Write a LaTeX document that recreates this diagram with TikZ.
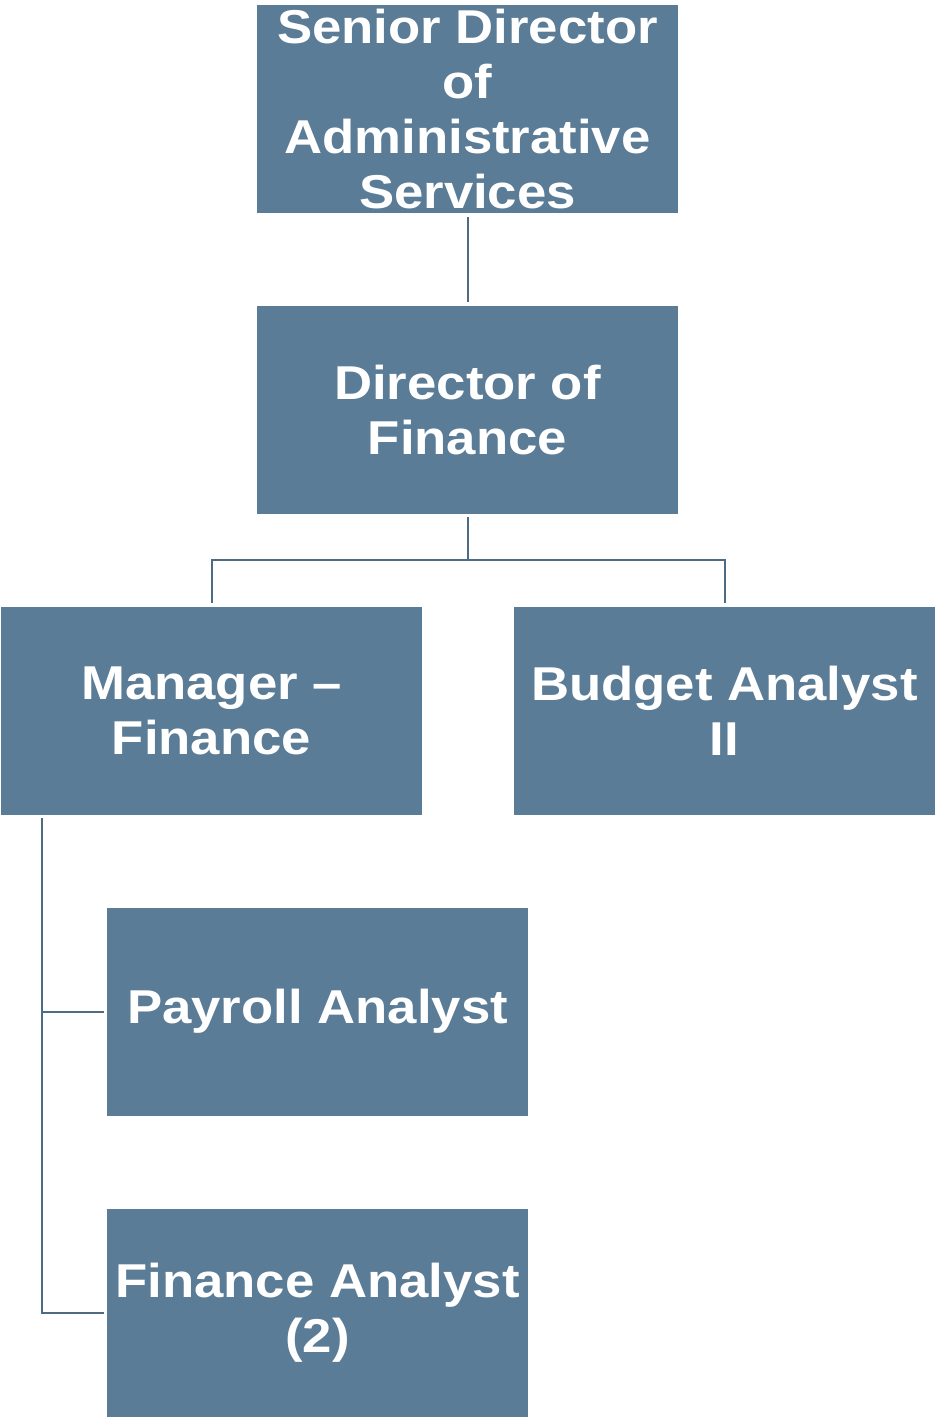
\documentclass[tikz,border=0pt]{standalone}
\usepackage{fontspec}
\setmainfont{Liberation Sans}
\newfontfamily\widefont[FakeStretch=1.11]{Liberation Sans}
\definecolor{boxfill}{HTML}{5B7C96}
\definecolor{linecol}{HTML}{4E6B84}
\begin{document}
\begin{tikzpicture}[x=1pt,y=-1pt,
  orgbox/.style={fill=boxfill, draw=none, minimum width=421pt, minimum height=208pt,
    inner sep=0pt, align=center, text=white,
    font=\widefont\fontsize{47.5}{55}\selectfont\bfseries},
  conn/.style={draw=linecol, line width=2pt}]
\useasboundingbox (0,0) rectangle (935,1419);
\node[orgbox] (sen) at (467.5,109) {Senior Director\\of\\Administrative\\Services};
\node[orgbox] (dir) at (467.5,410) {Director of\\Finance};
\node[orgbox] (mgr) at (211.5,710.5) {Manager –\\Finance};
\node[orgbox] (bud) at (724.5,710.5) {Budget Analyst\\II};
\node[orgbox] (pay) at (317.5,1011.5) {Payroll Analyst};
\node[orgbox] (fin) at (317.5,1312.5) {Finance Analyst\\(2)};
\draw[conn] ([yshift=-4pt]sen.south) -- ([yshift=4pt]dir.north);
\draw[conn] ([yshift=-3pt]dir.south) -- ++(0,43) coordinate (split);
\draw[conn] ([yshift=3pt]mgr.north) |- (split) -| ([yshift=3pt]bud.north);
\draw[conn] ([xshift=41pt,yshift=-3pt]mgr.south west) |- ([xshift=-3pt]fin.west);
\draw[conn] ([xshift=41pt]mgr.south west |- pay.west) -- ([xshift=-3pt]pay.west);
\end{tikzpicture}
\end{document}
